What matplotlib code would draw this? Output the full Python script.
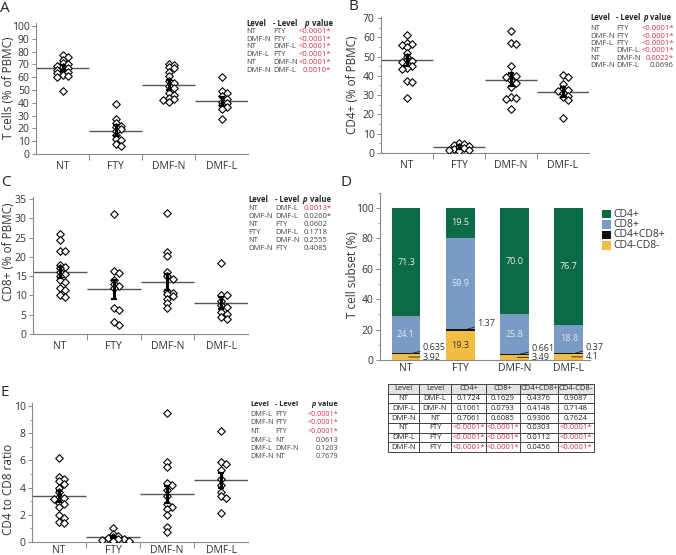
import matplotlib
matplotlib.use('Agg')
import matplotlib.pyplot as plt
from matplotlib.patches import Rectangle
from matplotlib.ticker import MultipleLocator, FixedLocator, NullFormatter

plt.rcParams['font.family'] = ['Open Sans', 'DejaVu Sans']

W, H = 676, 555
RED = '#d8344f'
TXT = '#333333'
GRID = '#8a8a8a'

groups = ['NT', 'FTY', 'DMF-N', 'DMF-L']

# A: T cells (% of PBMC)
a_nt = [77, 75.5, 73.5, 71, 70.3, 69, 68, 67, 66, 65, 64, 63, 62, 61, 60, 49.5]
a_fty = [39, 27, 24, 22, 21, 19.5, 18, 15, 12, 11, 8, 6]
a_dmfn = [70.5, 69.5, 68, 67, 64, 61, 57, 55.5, 53, 51.5, 48, 46, 44, 43, 42, 41]
a_dmfl = [60, 49.5, 47.5, 45, 43, 41, 39.5, 38, 37, 35.5, 27]
a_mean = [67, 18.3, 54, 41.3]
a_err = [2.5, 4, 4, 3.5]

# B: CD4+ (% of PBMC)
b_nt = [61, 57, 56.5, 56, 55, 52, 50, 48, 47.5, 47, 46, 45, 44, 43.5, 37.5, 37, 28.5]
b_fty = [5, 4.5, 4, 3.8, 3, 2.5, 2, 1.5, 1.5, 1]
b_dmfn = [63, 57, 56.5, 45, 40.5, 40, 39.5, 38, 36.5, 34, 29, 28.5, 28, 23]
b_dmfl = [40.5, 39.5, 36, 33, 32.5, 32, 31, 29.5, 29, 27.5, 18]
b_mean = [48, 3, 38, 31.5]
b_err = [3, 1, 3.5, 2.5]

# C: CD8+ (% of PBMC)
c_nt = [26, 24.5, 21.5, 21.5, 18, 17.5, 17, 16, 15.5, 15, 14, 13.5, 12, 11.5, 10, 9.5]
c_fty = [31, 16.3, 15.8, 14, 13, 12.5, 12, 6.7, 6.3, 3, 2.3]
c_dmfn = [31.3, 21.2, 20.2, 16, 15, 14.3, 11.2, 10.7, 10.3, 9.8, 9, 8, 6.7]
c_dmfl = [18.3, 10, 10, 8.5, 7.5, 7, 5.8, 5.2, 4.5, 3.8]
c_mean = [16, 11.6, 13.5, 8.1]
c_err = [1.5, 2.5, 2, 1.5]

# E: CD4 to CD8 ratio
e_nt = [6.15, 4.8, 4.65, 4.45, 4.25, 4.0, 3.7, 3.3, 3.2, 3.15, 2.9, 2.8, 2.55, 2.0, 1.8, 1.5, 1.4]
e_fty = [1.05, 0.6, 0.45, 0.35, 0.3, 0.25, 0.2, 0.15, 0.1, 0.08]
e_dmfn = [9.5, 5.85, 5.55, 4.35, 4.2, 3.8, 3.4, 2.8, 2.6, 2.45, 2.0, 1.1, 0.75]
e_dmfl = [8.15, 5.9, 5.7, 5.3, 4.6, 4.2, 3.65, 3.35, 3.25, 2.15]
e_mean = [3.35, 0.37, 3.5, 4.55]
e_err = [0.4, 0.1, 0.6, 0.55]

# D: T cell subsets (%)
d_dn = [3.92, 19.3, 3.49, 4.1]      # CD4-CD8-
d_dp = [0.635, 1.37, 0.661, 0.37]   # CD4+CD8+
d_cd8 = [24.1, 59.9, 25.8, 18.8]
d_cd4 = [71.3, 19.5, 70.0, 76.7]
d_colors = {'CD4+': '#0b6b47', 'CD8+': '#7a9bc4', 'CD4+CD8+': '#111111', 'CD4-CD8-': '#f2bc45'}

# p value lists
a_stats = [('NT', 'FTY', '<0.0001*'), ('DMF-N', 'FTY', '<0.0001*'), ('NT', 'DMF-L', '<0.0001*'),
           ('DMF-L', 'FTY', '<0.0001*'), ('NT', 'DMF-N', '<0.0001*'), ('DMF-N', 'DMF-L', '0.0010*')]
a_red = [1, 1, 1, 1, 1, 1]
b_stats = [('NT', 'FTY', '<0.0001*'), ('DMF-N', 'FTY', '<0.0001*'), ('DMF-L', 'FTY', '<0.0001*'),
           ('NT', 'DMF-L', '<0.0001*'), ('NT', 'DMF-N', '0.0022*'), ('DMF-N', 'DMF-L', '0.0696')]
b_red = [1, 1, 1, 1, 1, 0]
c_stats = [('NT', 'DMF-L', '0.0013*'), ('DMF-N', 'DMF-L', '0.0260*'), ('NT', 'FTY', '0.0602'),
           ('FTY', 'DMF-L', '0.1718'), ('NT', 'DMF-N', '0.2555'), ('DMF-N', 'FTY', '0.4085')]
c_red = [1, 0, 0, 0, 0, 0]
e_stats = [('DMF-L', 'FTY', '<0.0001*'), ('DMF-N', 'FTY', '<0.0001*'), ('NT', 'FTY', '<0.0001*'),
           ('DMF-L', 'NT', '0.0613'), ('DMF-L', 'DMF-N', '0.1203'), ('DMF-N', 'NT', '0.7679')]
e_red = [1, 1, 1, 0, 0, 0]

tbl_cols = ['Level', 'Level', 'CD4+', 'CD8+', 'CD4+CD8+', 'CD4-CD8-']
tbl_rows = [['NT', 'DMF-L', '0.1724', '0.1629', '0.4376', '0.9087'],
            ['DMF-L', 'DMF-N', '0.1061', '0.0793', '0.4148', '0.7148'],
            ['DMF-N', 'NT', '0.7061', '0.6085', '0.9306', '0.7624'],
            ['NT', 'FTY', '<0.0001*', '<0.0001*', '0.0303', '<0.0001*'],
            ['DMF-L', 'FTY', '<0.0001*', '<0.0001*', '0.0112', '<0.0001*'],
            ['DMF-N', 'FTY', '<0.0001*', '<0.0001*', '0.0456', '<0.0001*']]

fig = plt.figure(figsize=(W / 100, H / 100), dpi=100)


def px(x, y):
    return x / W, 1 - y / H


def make_axes(x0, x1, ybot, ppu, ytop_val):
    return fig.add_axes([x0 / W, 1 - ybot / H, (x1 - x0) / W, ytop_val * ppu / H])


def spread(vals, ppu, gap=3.2, step=0.1):
    # small beeswarm-like offsets so that overlapping diamonds fan out
    placed, xs = [], []
    for v in vals:
        off = 0
        for k in range(9):
            off = ((k + 1) // 2) * step * (1 if k % 2 else -1)
            if all(abs(v - pv) * ppu >= gap or abs(off - po) > 1e-9 for pv, po in placed):
                break
        placed.append((v, off))
        xs.append(off)
    return xs


def style_axes(ax, major, minor):
    for s in ['top', 'right']:
        ax.spines[s].set_visible(False)
    for s in ['left', 'bottom']:
        ax.spines[s].set_color(GRID)
        ax.spines[s].set_linewidth(0.8)
    ax.yaxis.set_major_locator(MultipleLocator(major))
    if minor:
        ax.yaxis.set_minor_locator(MultipleLocator(minor))
    ax.tick_params(axis='y', which='major', length=3, width=0.7, color=GRID, labelsize=7.5, labelcolor=TXT, pad=1.5)
    ax.tick_params(axis='y', which='minor', length=1.8, width=0.6, color=GRID)


def dot_panel(x0, x1, ybot, ppu, ytop, major, minor, data, means, errs, xpad=5):
    ax = make_axes(x0, x1, ybot, ppu, ytop)
    for i, vals in enumerate(data):
        offs = spread(vals, ppu)
        ax.hlines(means[i], i - 0.5, i + 0.5, color='#555555', lw=1.0, zorder=2)
        ax.scatter([i + o for o in offs], vals, marker='D', s=15, facecolor='white',
                   edgecolor='black', linewidth=0.8, zorder=3)
        ax.errorbar(i, means[i], yerr=errs[i], color='black', lw=2.2, capsize=2.2,
                    capthick=1.6, zorder=4)
    ax.set_xlim(-0.5, 3.5)
    ax.set_ylim(0, ytop)
    style_axes(ax, major, minor)
    ax.xaxis.set_major_locator(FixedLocator([0.5, 1.5, 2.5]))
    ax.xaxis.set_major_formatter(NullFormatter())
    ax.xaxis.set_minor_locator(FixedLocator([0, 1, 2, 3]))
    ax.set_xticklabels(groups, minor=True)
    ax.tick_params(axis='x', which='major', length=4, width=0.7, color=GRID)
    ax.tick_params(axis='x', which='minor', length=0, labelsize=7.5, labelcolor=TXT, pad=xpad)
    return ax


def stat_block(xl, xl2, xp, xv, yh, ys, rows, reds, align='right', fs=5.5):
    fig.text(*px(xl, yh), 'Level', fontsize=fs, fontweight='bold', va='center', color='#222222')
    fig.text(*px(xl2, yh), '- Level', fontsize=fs, fontweight='bold', va='center', color='#222222')
    fig.text(*px(xp, yh), 'p', fontsize=fs, fontweight='bold', style='italic', va='center', color='#222222')
    fig.text(*px(xp + 7.5, yh), 'value', fontsize=fs, fontweight='bold', va='center', color='#222222')
    for (l1, l2, pv), red, y in zip(rows, reds, ys):
        fig.text(*px(xl, y), l1, fontsize=fs, va='center', color='#444444')
        fig.text(*px(xl2, y), l2, fontsize=fs, va='center', color='#444444')
        fig.text(*px(xv, y), pv, fontsize=fs, va='center', ha=align, color=RED if red else '#444444')


# ---- A
axA = dot_panel(36, 248, 154, 1.28, 102.3, 10, None, [a_nt, a_fty, a_dmfn, a_dmfl], a_mean, a_err)
fig.text(*px(9, 88), 'T cells (% of PBMC)', rotation=90, fontsize=8.5, color=TXT, ha='center', va='center')
stat_block(246, 273, 304, 331, 23, [31.5, 39.5, 47, 55, 63, 71], a_stats, a_red)

# ---- B
axB = dot_panel(381, 589, 153, 1.929, 70.7, 10, 5, [b_nt, b_fty, b_dmfn, b_dmfl], b_mean, b_err)
fig.text(*px(352, 85), 'CD4+ (% of PBMC)', rotation=90, fontsize=8.5, color=TXT, ha='center', va='center')
stat_block(590, 616, 643, 674, 18, [29, 36, 43.5, 51, 58, 65.5], b_stats, b_red)

# ---- C
axC = dot_panel(33, 248, 334, 3.857, 35.5, 5, None, [c_nt, c_fty, c_dmfn, c_dmfl], c_mean, c_err)
fig.text(*px(9, 252), 'CD8+ (% of PBMC)', rotation=90, fontsize=8.5, color=TXT, ha='center', va='center')
stat_block(248, 275, 302, 304, 199, [209, 216.5, 224, 232, 240, 248], c_stats, c_red, align='left')

# ---- E
axE = dot_panel(32, 248, 542, 13.6, 10.2, 2, 1, [e_nt, e_fty, e_dmfn, e_dmfl], e_mean, e_err, xpad=2)
fig.text(*px(9, 489), 'CD4 to CD8 ratio', rotation=90, fontsize=8.5, color=TXT, ha='center', va='center')
stat_block(250, 275, 311, 338, 405, [415, 423, 431.5, 440, 448, 456], e_stats, e_red, fs=5.2)

# ---- D stacked bars
axD = make_axes(380, 590, 360, 1.52, 110)
xs = list(range(len(groups)))
bw = 0.53
bottom = [0.0] * 4
layers = [('CD4-CD8-', d_dn), ('CD4+CD8+', d_dp), ('CD8+', d_cd8), ('CD4+', d_cd4)]
for name, vals in layers:
    axD.bar(xs, vals, bw, bottom=bottom, color=d_colors[name], edgecolor='none', zorder=2)
    for i, v in enumerate(vals):
        mid = bottom[i] + v / 2
        if v > 10:
            col = '#3a3a3a' if name == 'CD4-CD8-' else ('#dfe7f2' if name == 'CD8+' else '#e8efe9')
            axD.text(i, mid, str(v), ha='center', va='center', fontsize=6.5, color=col, zorder=3)
        elif name == 'CD4+CD8+':
            axD.annotate(str(v), xy=(i + 0.1, mid), xytext=(i + 0.31, mid + 3.8),
                         fontsize=6.5, color=TXT, ha='left', va='center',
                         arrowprops=dict(arrowstyle='-', lw=0.6, color='#222222',
                                         shrinkA=0, shrinkB=0))
        else:
            axD.annotate(str(v), xy=(i + 0.05, mid), xytext=(i + 0.31, mid),
                         fontsize=6.5, color=TXT, ha='left', va='center',
                         arrowprops=dict(arrowstyle='-', lw=0.6, color='#222222',
                                         shrinkA=0, shrinkB=0))
    bottom = [b + v for b, v in zip(bottom, vals)]
axD.set_xlim(-0.48, 3.39)
axD.set_ylim(0, 110)
style_axes(axD, 20, 10)
axD.yaxis.set_major_locator(FixedLocator([0, 20, 40, 60, 80, 100]))
axD.set_xticks(xs)
axD.set_xticklabels(groups)
axD.tick_params(axis='x', length=0, labelsize=7.5, labelcolor=TXT, pad=2)
fig.text(*px(352, 275), 'T cell subset (%)', rotation=90, fontsize=8.5, color=TXT, ha='center', va='center')

# legend
for k, name in enumerate(['CD4+', 'CD8+', 'CD4+CD8+', 'CD4-CD8-']):
    y = 214 + k * 10.4
    fig.add_artist(Rectangle(px(602, y + 4.3), 9 / W, 8.6 / H, transform=fig.transFigure,
                             facecolor=d_colors[name], edgecolor='none'))
    fig.text(*px(613, y), name, fontsize=7.5, color=TXT, va='center')

# ---- table of p values
axT = fig.add_axes([388 / W, 1 - 452 / H, (594 - 388) / W, (452 - 384) / H])
axT.axis('off')
tb = axT.table(cellText=tbl_rows, colLabels=tbl_cols, bbox=[0, 0, 1, 1], cellLoc='center',
               colWidths=[31, 32, 35, 34, 38, 36])
tb.auto_set_font_size(False)
for (r, c), cell in tb.get_celld().items():
    cell.set_linewidth(0.7)
    cell.set_edgecolor('#444444')
    cell.PAD = 0.02
    cell.get_text().set_fontsize(5.5)
    cell.get_text().set_color('#222222')
    if r == 0:
        cell.set_facecolor('#e4e4e4')
    elif cell.get_text().get_text().startswith('<'):
        cell.get_text().set_color(RED)

# panel letters
for letter, (x, y) in zip('ABCDE', [(5, 8), (353, 7), (6, 183), (346, 183), (5, 392)]):
    fig.text(*px(x, y), letter, fontsize=11, color='#222222', ha='center', va='center')

fig.savefig('out.png', dpi=100)
